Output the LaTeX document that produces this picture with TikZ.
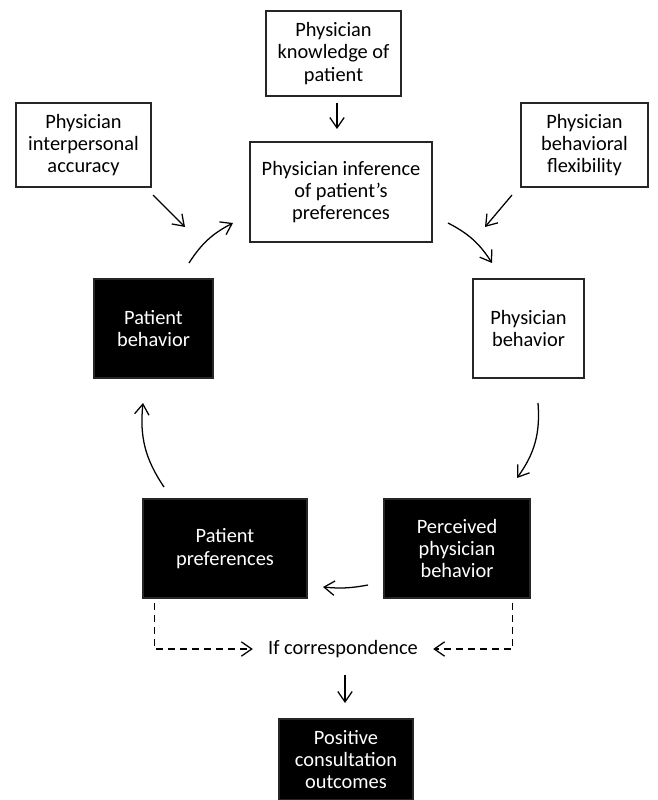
\documentclass[tikz,border=0pt]{standalone}
\usepackage{fontspec}
\setmainfont{Carlito}
\usetikzlibrary{arrows.meta}

\tikzset{
  box/.style={draw=black!85, line width=1pt, align=center, inner sep=0pt,
    font=\fontsize{14.5}{15.8}\selectfont},
  whitebox/.style={box, fill=white},
  blackbox/.style={box, fill=black, text=white},
  arr/.style={-{Straight Barb[length=2.6mm,width=3.6mm]}, line width=0.9pt},
  dasharr/.style={arr, dash pattern=on 1.7mm off 1.3mm}
}

\begin{document}
\begin{tikzpicture}[x=0.025cm,y=-0.025cm]
  \useasboundingbox (0,0) rectangle (657,800);
  % upper boxes
  \node[whitebox, minimum width=3.375cm, minimum height=2.125cm] (know) at (333.5,53.5)
    {Physician\\knowledge of\\patient};
  \node[whitebox, minimum width=3.375cm, minimum height=2.1cm] (inter) at (83.5,145)
    {Physician\\interpersonal\\accuracy};
  \node[whitebox, minimum width=4.55cm, minimum height=2.5cm] (infer) at (341,192)
    {Physician inference\\of patient's\\preferences};
  \node[whitebox, minimum width=3.175cm, minimum height=2.1cm] (flex) at (584.5,145)
    {Physician\\behavioral\\flexibility};
  % cycle
  \node[blackbox, minimum width=2.975cm, minimum height=2.475cm] (patbeh) at (153.5,328.5)
    {Patient\\behavior};
  \node[whitebox, minimum width=2.775cm, minimum height=2.475cm] (physbeh) at (528.5,328.5)
    {Physician\\behavior};
  \node[blackbox, minimum width=4.1cm, minimum height=2.475cm] (pref) at (225,548.5)
    {Patient\\preferences};
  \node[blackbox, minimum width=3.65cm, minimum height=2.475cm] (perc) at (457,548.5)
    {Perceived\\physician\\behavior};
  % outcome
  \node[font=\fontsize{14.5}{15.8}\selectfont, inner xsep=0.375cm, inner ysep=2pt] (ifc) at (343,649)
    {If correspondence};
  \node[blackbox, minimum width=3.35cm, minimum height=2.025cm] (outc) at (346,759.5)
    {Positive\\consultation\\outcomes};

  % arrow ends
  \coordinate (k1) at (337,103);  \coordinate (k2) at (337,129);
  \coordinate (a1) at (153,195);  \coordinate (a2) at (185,227);
  \coordinate (f1) at (512,195);  \coordinate (f2) at (485,227);
  \coordinate (o1) at (345,675);  \coordinate (o2) at (345,703);
  \coordinate (b1) at (189,263);  \coordinate (b2) at (233,223);
  \coordinate (c1) at (448,223);  \coordinate (c2) at (492,263);
  \coordinate (d1) at (538,403);  \coordinate (d2) at (517,478);
  \coordinate (e1) at (368,585);  \coordinate (e2) at (323,587);
  \coordinate (g1) at (164,487);  \coordinate (g2) at (143,403);

  \foreach \from/\to in {k1/k2, a1/a2, f1/f2, o1/o2}
    \draw[arr] (\from) -- (\to);
  \foreach \from/\to/\bend in {b1/b2/15, c1/c2/15, d1/d2/20, e1/e2/8, g1/g2/20}
    \draw[arr] (\from) to[bend left=\bend] (\to);

  % correspondence check
  \draw[dasharr] ([xshift=0.3cm,yshift=-0.1cm]pref.south west) |- (ifc.west);
  \draw[dasharr] ([xshift=-0.45cm,yshift=-0.1cm]perc.south east) |- (ifc.east);
\end{tikzpicture}
\end{document}
